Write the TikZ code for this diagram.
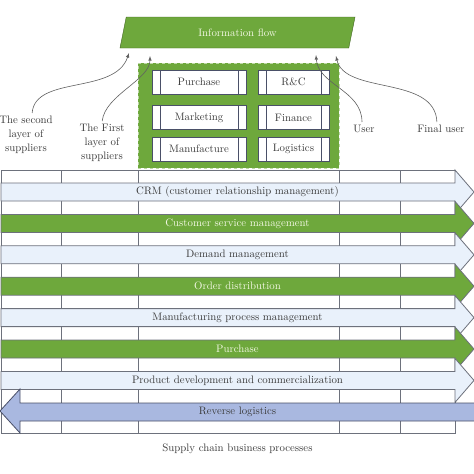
\documentclass[tikz,border=0pt]{standalone}
\usetikzlibrary{shapes.geometric}

\definecolor{leafgreen}{HTML}{6EA83C}
\definecolor{paleblue}{HTML}{E9F1FB}
\definecolor{gridgray}{HTML}{6D717C}
\definecolor{revblue}{HTML}{A9B8E0}
\definecolor{inkgray}{HTML}{3A3A3A}
\definecolor{creamtext}{HTML}{F3F8E4}
\definecolor{boxedge}{HTML}{4A5068}

\begin{document}
\begin{tikzpicture}[x=1pt,y=-1pt]
        \tikzstyle{every node}=[font=\fontsize{10.8}{14}\selectfont, text=inkgray, inner sep=1pt]
        \tikzstyle{procbox}=[draw=boxedge, line width=1pt, fill=white, minimum height=24pt,
            path picture={\draw[boxedge, line width=1pt] ([xshift=8pt]path picture bounding box.north west) -- ([xshift=8pt]path picture bounding box.south west)
                ([xshift=-8pt]path picture bounding box.north east) -- ([xshift=-8pt]path picture bounding box.south east);}]
        \tikzstyle{lbl}=[align=center]
        \tikzstyle{link}=[draw=inkgray!80, line width=0.6pt, -latex, shorten <=2pt]
        \tikzstyle{gridline}=[draw=gridgray, line width=0.8pt]
        \tikzstyle{lightband}=[gridline, fill=paleblue]
        \tikzstyle{greenband}=[gridline, fill=leafgreen]
        \fill[white] (0,0) rectangle (474,474);
        \useasboundingbox (0,0) rectangle (474,474);
        % information flow and departments
        \node[trapezium, trapezium left angle=77, trapezium right angle=103, trapezium stretches=true,
            minimum width=237pt, minimum height=31pt, fill=leafgreen, draw=leafgreen!60!black, text=creamtext] (info) at (237.5,32.5) {Information flow};
        \node[fill=leafgreen, draw=leafgreen!45!white, dashed, line width=0.9pt, minimum width=201pt, minimum height=105pt] (depts) at (238.5,115.5) {};
        \node[procbox, minimum width=94pt] (purchase) at (199,82) {Purchase};
        \node[procbox, minimum width=71pt] (rc) at (293.5,82) {R\&C};
        \node[procbox, minimum width=94pt] (marketing) at (199,117.5) {Marketing};
        \node[procbox, minimum width=71pt] (finance) at (293.5,117.5) {Finance};
        \node[procbox, minimum width=94pt] (manufacture) at (199,149) {Manufacture};
        \node[procbox, minimum width=71pt] (logistics) at (293.5,149) {Logistics};
        % actors
        \node[lbl] (second) at (26,135) {The second\\layer of\\suppliers};
        \node[lbl] (first) at (102,143) {The First\\layer of\\suppliers};
        \node[lbl] (user) at (364,129) {User};
        \node[lbl] (finaluser) at (441,129) {Final user};
        \coordinate (in1) at (129,53);
        \coordinate (in2) at (150,56);
        \coordinate (in3) at (316,55);
        \coordinate (in4) at (336,56);
        \draw[link] ([xshift=6pt]second.north) .. controls (35,75) and (115,95) .. (in1);
        \draw[link] (first.north) .. controls (105,95) and (150,80) .. (in2);
        \draw[link] ([xshift=-2pt]user.north) .. controls (362,90) and (318,85) .. (in3);
        \draw[link] ([xshift=-4pt]finaluser.north) .. controls (435,75) and (345,95) .. (in4);
        % process grid
        \draw[gridline, fill=white] (1,170) rectangle (455,433);
        \foreach \gx in {61,138,339,400} \draw[gridline] (\gx,170) -- (\gx,433);
        \foreach \txt/\kind/\ink [count=\i] in {CRM (customer relationship management)/lightband/inkgray,
            Customer service management/greenband/creamtext, Demand management/lightband/inkgray,
            Order distribution/greenband/creamtext, Manufacturing process management/lightband/inkgray,
            Purchase/greenband/creamtext, Product development and commercialization/lightband/inkgray} {
            \pgfmathsetmacro\yt{183+31.4*(\i-1)}
            \draw[\kind] (1,\yt) -- (455,\yt) -- (455,\yt-13) -- (474,\yt+9) -- (455,\yt+31) -- (455,\yt+18) -- (1,\yt+18) -- cycle;
            \node[text=\ink] (band\i) at (237.5,\yt+9) {\txt};
        }
        \draw[gridline, draw=boxedge, fill=revblue] (477,403) -- (20,403) -- (20,389) -- (0,411) -- (20,433) -- (20,421) -- (477,421) -- cycle;
        \node (reverse) at (237.5,412) {Reverse logistics};
        \node (caption) at (237.5,449) {Supply chain business processes};
    \end{tikzpicture}
\end{document}
